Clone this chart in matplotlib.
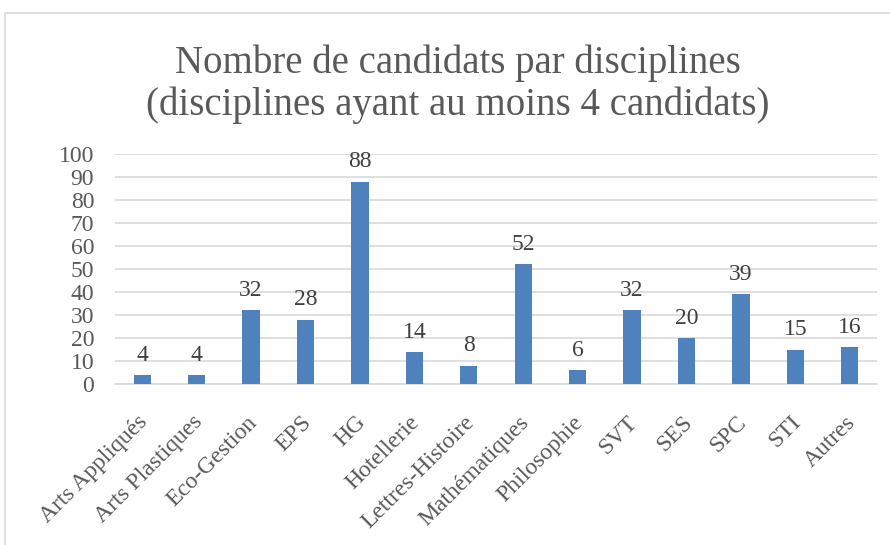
import matplotlib.pyplot as plt
from matplotlib.patches import Rectangle
from matplotlib.transforms import ScaledTranslation

# Data
disciplines = ["Arts Appliqués", "Arts Plastiques", "Eco-Gestion", "EPS", "HG",
               "Hotellerie", "Lettres-Histoire", "Mathématiques", "Philosophie",
               "SVT", "SES", "SPC", "STI", "Autres"]
candidats = [4, 4, 32, 28, 88, 14, 8, 52, 6, 32, 20, 39, 15, 16]
yticks = [0, 10, 20, 30, 40, 50, 60, 70, 80, 90, 100]

bar_color = "#4f81bd"
text_color = "#595959"
plt.rcParams['font.family'] = ['Liberation Serif', 'DejaVu Serif']

fig = plt.figure(figsize=(8.9, 5.45), dpi=100)

# chart border (light grey frame as in the office export)
fig.patches.append(Rectangle((5 / 890, -0.1), 1.2, 1 - 13 / 545 + 0.1,
                             transform=fig.transFigure, fill=False,
                             edgecolor="#d9d9d9", linewidth=1.2))

ax = fig.add_axes([115 / 890, 1 - 384 / 545, 762 / 890, 230 / 545])
x = range(len(disciplines))
bars = ax.bar(x, candidats, width=0.32, color=bar_color, zorder=3)

for b, v in zip(bars, candidats):
    ax.text(b.get_x() + b.get_width() / 2, v + 4, str(v), ha="center",
            va="bottom", fontsize=17, color="#404040")

ax.set_xlim(-0.5, len(disciplines) - 0.5)
ax.set_ylim(0, 100)
ax.set_yticks(yticks)
ax.set_yticklabels([str(t) for t in yticks], fontsize=17, color=text_color)
ax.set_xticks(list(x))
ax.set_xticklabels(disciplines, rotation=45, ha="right", rotation_mode="anchor",
                   fontsize=17, color=text_color)
ax.tick_params(axis="both", length=0)
ax.tick_params(axis="y", pad=15)
ax.tick_params(axis="x", pad=20)

# nudge rotated labels a bit to the left
shift = ScaledTranslation(-5 / 100, 0, fig.dpi_scale_trans)
for lab in ax.get_xticklabels():
    lab.set_transform(lab.get_transform() + shift)

ax.grid(axis="y", color="#d9d9d9", linewidth=1.2, zorder=0)
for s in ["top", "right", "left"]:
    ax.spines[s].set_visible(False)
ax.spines["bottom"].set_color("#d9d9d9")
ax.spines["bottom"].set_linewidth(1.2)

fig.text(458 / 890, 1 - 84 / 545,
         "Nombre de candidats par disciplines\n(disciplines ayant au moins 4 candidats)",
         ha="center", va="center", fontsize=28, color=text_color, linespacing=1.15)

fig.savefig("out.png", dpi=100)
